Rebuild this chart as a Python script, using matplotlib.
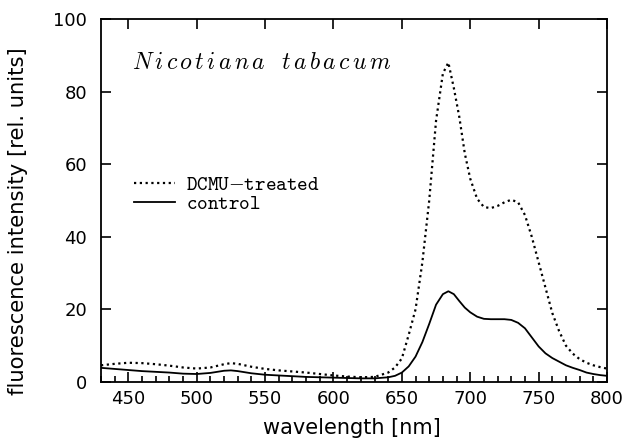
import matplotlib
matplotlib.use("Agg")
import matplotlib.pyplot as plt
from matplotlib.ticker import MultipleLocator

# ---------- data ----------
wavelength = [430, 440, 450, 460, 470, 480, 490, 500, 510, 520, 525, 530,
              540, 550, 560, 570, 580, 590, 600, 610, 620, 630, 640, 645,
              650, 655, 660, 665, 670, 675, 680, 684, 688, 692, 696, 700,
              705, 710, 715, 720, 725, 730, 735, 740, 745, 750, 755, 760,
              765, 770, 775, 780, 785, 790, 795, 800]

dcmu = [4.6, 5.0, 5.3, 5.2, 4.9, 4.5, 4.0, 3.7, 4.0, 4.9, 5.2, 5.0,
        4.2, 3.6, 3.2, 2.9, 2.6, 2.2, 1.8, 1.5, 1.3, 1.4, 2.6, 4.0,
        6.5, 13.0, 20.0, 33.0, 50.0, 72.0, 85.0, 88.0, 81.0, 73.0, 63.0, 56.0,
        50.5, 48.2, 47.9, 48.5, 49.5, 50.2, 49.5, 46.0, 40.0, 33.0, 26.0, 19.0,
        14.0, 10.0, 7.8, 6.3, 5.3, 4.6, 4.1, 3.7]

control = [3.9, 3.6, 3.3, 3.0, 2.8, 2.6, 2.3, 2.2, 2.5, 3.1, 3.2, 3.0,
           2.4, 2.0, 1.8, 1.6, 1.4, 1.3, 1.2, 1.1, 1.0, 1.0, 1.3, 1.7,
           2.6, 4.3, 7.0, 11.0, 16.0, 21.3, 24.2, 25.0, 24.2, 22.3, 20.5, 19.2,
           18.0, 17.4, 17.3, 17.3, 17.3, 17.1, 16.3, 14.8, 12.3, 9.8, 7.9, 6.6,
           5.6, 4.6, 3.9, 3.3, 2.6, 2.2, 1.9, 1.7]

plt.rcParams["font.family"] = "DejaVu Sans"
plt.rcParams["mathtext.fontset"] = "cm"

fig = plt.figure(figsize=(6.25, 4.45), dpi=100)
ax = fig.add_axes([101 / 625, 1 - 382 / 445, 506 / 625, 363 / 445])

ax.plot(wavelength, dcmu, color="black", lw=1.6, linestyle=(0, (1, 1.6)),
        label=r"$\mathtt{DCMU{-}treated}$")
ax.plot(wavelength, control, color="black", lw=1.3,
        label=r"$\mathtt{control}$")

ax.set_xlim(430, 800)
ax.set_ylim(0, 100)

ax.xaxis.set_major_locator(MultipleLocator(50))
ax.xaxis.set_minor_locator(MultipleLocator(10))
ax.yaxis.set_major_locator(MultipleLocator(20))

ax.tick_params(axis="both", which="both", direction="in", width=1.2,
               labelsize=13, top=True, right=True)
ax.tick_params(axis="x", which="major", length=7, pad=6)
ax.tick_params(axis="x", which="minor", length=4, top=False)
ax.tick_params(axis="y", which="major", length=7, pad=10)
for s in ax.spines.values():
    s.set_linewidth(1.3)

title = r"$N\,i\,c\,o\,t\,i\,a\,n\,a\ \ \,t\,a\,b\,a\,c\,u\,m$"
ax.text(0.061, 0.881, title, transform=ax.transAxes,
        fontsize=17, va="center", ha="left")

ax.legend(loc="upper left", bbox_to_anchor=(0.065, 0.57), frameon=False,
          fontsize=14.5, handlelength=2.05, handletextpad=0.55,
          labelspacing=0.0, borderaxespad=0, borderpad=0)

fig.text(352 / 625, 1 - 428 / 445, "wavelength [nm]", fontsize=15,
         ha="center", va="center")
fig.text(18 / 625, 1 - 221 / 445, "fluorescence intensity [rel. units]",
         fontsize=15.2, rotation=90, ha="center", va="center")

fig.savefig("out.png", dpi=100)
